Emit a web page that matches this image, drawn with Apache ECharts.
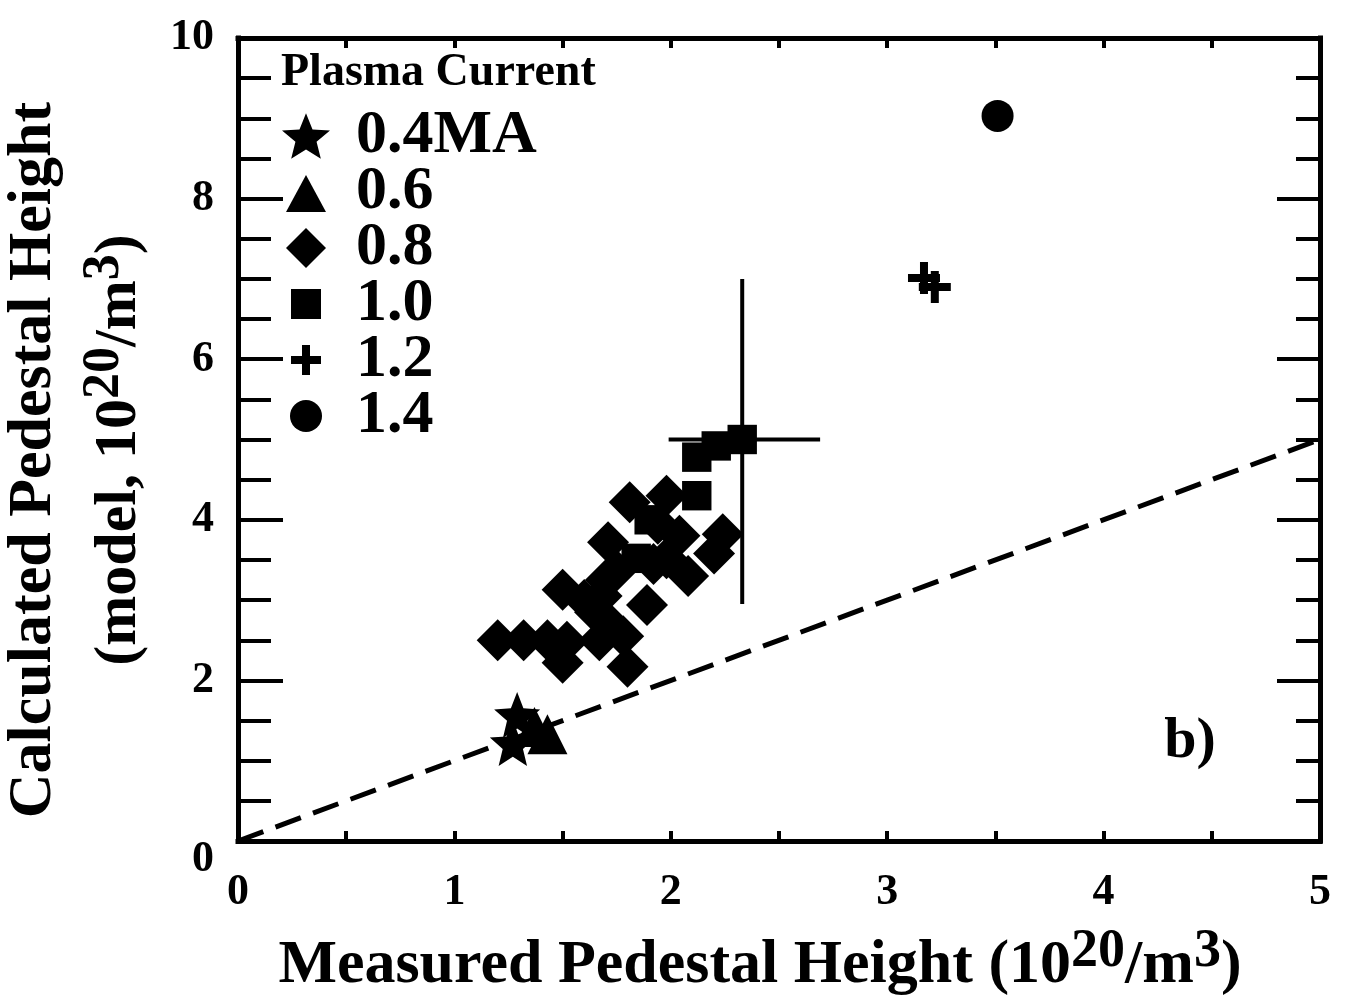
<!DOCTYPE html>
<html><head><meta charset="utf-8">
<script src="https://cdn.jsdelivr.net/npm/echarts@6/dist/echarts.min.js"></script>
<style>html,body{margin:0;padding:0;background:#fff}#c{width:1356px;height:1007px}</style>
</head><body><div id="c"></div>
<script>
// ---- data ----
const xTickLabels = ['0','1','2','3','4','5'];
const yTickLabels = ['0','2','4','6','8','10'];
const legendNames = ['0.4MA','0.6','0.8','1.0','1.2','1.4'];
const star04 = [[1.29,1.57],[1.27,1.22]];
const tri06 = [[1.43,1.33],[1.37,1.42]];
const diam08 = [[1.20,2.50],[1.32,2.50],[1.43,2.50],[1.52,2.48],[1.50,2.22],[1.50,3.13],
  [1.60,3.00],[1.65,2.85],[1.70,3.25],[1.68,3.05],[1.72,2.70],[1.67,2.50],[1.78,2.55],
  [1.80,2.17],[1.89,2.94],[1.71,3.72],[1.81,4.22],[1.98,4.30],[1.94,3.95],[1.98,3.52],
  [2.04,3.80],[2.08,3.30],[2.20,3.58],[2.24,3.82],[1.92,3.45],[1.75,3.37]];
const sq10 = [[1.84,3.52],[1.90,4.00],[2.12,4.30],[2.12,4.78],[2.21,4.92],[2.33,5.00]];
const plus12 = [[3.17,7.01],[3.22,6.90]];
const circ14 = [[3.51,9.03]];
const errV = [[2.33,2.95],[2.33,7.00]];
const errH = [[1.99,5.00],[2.69,5.00]];
const refLine = [[0,0],[5,5]];

// ---- style ----
const F = 'Liberation Serif';
const K = '#000';
const STAR = 'path://M50,0 L62.93,32.2 L97.55,34.55 L70.92,56.8 L79.39,90.45 L50,72 L20.61,90.45 L29.08,56.8 L2.45,34.55 L37.07,32.2 Z';
const PLUS = 'path://M12,0 H20 V12 H32 V20 H20 V32 H12 V20 H0 V12 H12 Z';
const SQUARE = 'path://M0,0 M40,40 M6,6 H34 V34 H6 Z';
// legend icons, padded inside a 48x48 box so they keep their relative sizes
const IC = {
  '0.4MA': STAR,
  '0.6': 'path://M0,0 M48,48 M4,44 L24,7 L44,44 Z',
  '0.8': 'path://M0,0 M48,48 M24,4 L44,24 L24,44 L4,24 Z',
  '1.0': 'path://M0,0 M48,48 M9,9 H39 V39 H9 Z',
  '1.2': 'path://M0,0 M48,48 M20,9 H28 V20 H39 V28 H28 V39 H20 V28 H9 V20 H20 Z',
  '1.4': 'path://M0,0 M48,48 M8,24 A16,16 0 1,1 40,24 A16,16 0 1,1 8,24 Z'
};

function axisCommon(extra) {
  return Object.assign({
    type: 'value',
    axisLine: {show: true, onZero: false, lineStyle: {color: K, width: 5, cap: 'square'}},
    splitLine: {show: false},
    minorSplitLine: {show: false}
  }, extra);
}
const xFmt = v => (Number.isInteger(v) ? xTickLabels[v] : '');
const yFmt = v => (v === 0 ? '{z|' + yTickLabels[0] + '}' : (Number.isInteger(v/2) ? yTickLabels[v/2] : ''));
const tickFont = {fontFamily: F, fontWeight: 'bold', fontSize: 44, color: K};

const chart = echarts.init(document.getElementById('c'), null, {renderer: 'canvas'});
const scat = (name, data, symbol, size) => ({
  name, type: 'scatter', data, symbol, symbolSize: size,
  itemStyle: {color: K, opacity: 1}, z: 5
});
const lineS = (name, data, extra) => Object.assign({
  name, type: 'line', data, showSymbol: false, symbol: 'none', silent: true,
  lineStyle: {color: K, width: 4}, z: 4
}, extra);

chart.setOption({
  animation: false,
  backgroundColor: '#fff',
  grid: {left: 238, right: 36, top: 38, bottom: 166, containLabel: false},
  xAxis: [
    axisCommon({position: 'bottom', min: 0, max: 5, interval: 1,
      axisTick: {inside: true, length: 10, lineStyle: {color: K, width: 4}},
      minorTick: {show: true, splitNumber: 2, length: 10, lineStyle: {color: K, width: 4}},
      axisLabel: Object.assign({formatter: xFmt, margin: 30}, tickFont),
      name: '{n|Measured Pedestal Height (10}{s|20}{n|/m}{s|3}{n|)}',
      nameLocation: 'middle', nameGap: 84,
      nameTextStyle: {padding: [0, 38, 0, 0], rich: {
        n: {fontFamily: F, fontWeight: 'bold', fontSize: 62, color: K, lineHeight: 72, verticalAlign: 'bottom'},
        s: {fontFamily: F, fontWeight: 'bold', fontSize: 54, color: K, lineHeight: 54, verticalAlign: 'top'}
      }}
    }),
    axisCommon({position: 'top', min: 0, max: 5, interval: 1,
      axisTick: {inside: true, length: 10, lineStyle: {color: K, width: 4}},
      minorTick: {show: true, splitNumber: 2, length: 10, lineStyle: {color: K, width: 4}},
      axisLabel: {show: false}
    })
  ],
  yAxis: [
    axisCommon({position: 'left', min: 0, max: 10, interval: 2,
      axisTick: {inside: true, length: 45, lineStyle: {color: K, width: 4}},
      minorTick: {show: true, splitNumber: 4, length: 33, lineStyle: {color: K, width: 4}},
      axisLabel: Object.assign({formatter: yFmt, margin: 24, rich: {z: Object.assign({padding: [38, 0, 0, 0]}, tickFont)}}, tickFont)
    }),
    axisCommon({position: 'right', min: 0, max: 10, interval: 2,
      axisTick: {inside: true, length: 43, lineStyle: {color: K, width: 4}},
      minorTick: {show: true, splitNumber: 4, length: 24, lineStyle: {color: K, width: 4}},
      axisLabel: {show: false}
    })
  ],
  legend: {
    data: legendNames.map(n => ({name: n, icon: IC[n]})),
    orient: 'vertical', left: 277, top: 100,
    itemWidth: 48, itemHeight: 48, itemGap: -6, selectedMode: false,
    textStyle: {fontFamily: F, fontWeight: 'bold', fontSize: 62, color: K, lineHeight: 54, padding: [0, 0, 0, 21]}
  },
  graphic: [
    {type: 'text', left: 281, top: 50, style: {text: 'Plasma Current', fontFamily: F, fontWeight: 'bold', fontSize: 46, fill: K}},
    {type: 'text', x: 1190, y: 742, style: {text: 'b)', fontFamily: F, fontWeight: 'bold', fontSize: 58, fill: K, align: 'center', verticalAlign: 'middle'}},
    {type: 'text', x: 34, y: 460, rotation: Math.PI / 2,
      style: {text: 'Calculated Pedestal Height', fontFamily: F, fontWeight: 'bold', fontSize: 62, fill: K, align: 'center', verticalAlign: 'middle'}},
    {type: 'text', x: 114, y: 450, rotation: Math.PI / 2,
      style: {text: '{n|(model, 10}{s|20}{n|/m}{s|3}{n|)}', align: 'center', verticalAlign: 'middle',
        rich: {
          n: {fontFamily: F, fontWeight: 'bold', fontSize: 60, fill: K, lineHeight: 70, verticalAlign: 'bottom'},
          s: {fontFamily: F, fontWeight: 'bold', fontSize: 52, fill: K, lineHeight: 52, verticalAlign: 'top'}
        }}}
  ],
  series: [
    lineS('ref', refLine, {lineStyle: {color: K, width: 5, type: [27, 13]}, z: 3}),
    lineS('errV', errV),
    lineS('errH', errH),
    scat('0.4MA', star04, STAR, 46),
    scat('0.6', tri06, 'triangle', 40),
    scat('0.8', diam08, 'diamond', 42),
    scat('1.0', sq10, SQUARE, 42),
    scat('1.2', plus12, PLUS, 32),
    scat('1.4', circ14, 'circle', 32)
  ]
});
</script>
</body></html>
